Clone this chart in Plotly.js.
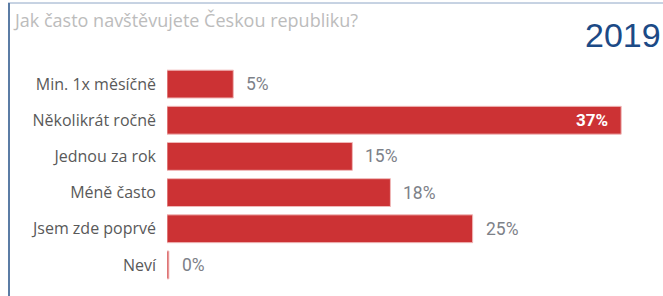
<!DOCTYPE html>
<html>
<head>
<meta charset="utf-8">
<script src="https://cdn.plot.ly/plotly-3.0.1.min.js"></script>
<style>html,body{margin:0;padding:0;background:#fff;}#chart{width:663px;height:296px;}</style>
</head>
<body>
<div id="chart"></div>
<script>
const categories = ["Min. 1x měsíčně", "Několikrát ročně", "Jednou za rok", "Méně často", "Jsem zde poprvé", "Neví"];
const values = [5.4, 37.0, 15.1, 18.2, 24.9, 0.15];
const labels = ["5%", "37%", "15%", "18%", "25%", "0%"];
const insideLabel = [false, true, false, false, false, false];
const chartTitle = "Jak často navštěvujete Českou republiku?";
const yearLabel = "2019";

const W = 663, H = 296;
const m = {l: 167, r: 5, t: 66, b: 13};
const pw = W - m.l - m.r, ph = H - m.t - m.b;
const px = v => (v - m.l) / pw;
const py = v => 1 - (v - m.t) / ph;

const trace = {
  type: "bar",
  orientation: "h",
  x: values,
  y: categories,
  marker: {color: "#cc3234", line: {color: "#f0b8b8", width: 1}},
  hoverinfo: "skip"
};

const annotations = values.map((v, i) => insideLabel[i] ? {
  x: v, y: categories[i], xref: "x", yref: "y",
  text: "<b>" + labels[i] + "</b>", showarrow: false,
  xanchor: "right", xshift: -11,
  font: {family: "Roboto, sans-serif", size: 17, color: "#ffffff"}
} : {
  x: v, y: categories[i], xref: "x", yref: "y",
  text: labels[i], showarrow: false,
  xanchor: "left", xshift: 11,
  font: {family: "Roboto, sans-serif", size: 17.5, color: "#7d8188"}
});

annotations.push({
  text: yearLabel, xref: "paper", yref: "paper",
  x: px(663), y: py(35), xanchor: "right", yanchor: "middle",
  showarrow: false,
  font: {family: "Liberation Sans, Arial, sans-serif", size: 34, color: "#1c4a86"}
});

const layout = {
  width: W, height: H,
  margin: m,
  paper_bgcolor: "#ffffff",
  plot_bgcolor: "#ffffff",
  showlegend: false,
  bargap: 0.23,
  title: {
    text: chartTitle,
    xref: "container", yref: "container",
    x: 15 / W, xanchor: "left",
    y: 1 - 21 / H, yanchor: "middle",
    font: {family: "Open Sans, sans-serif", size: 18, color: "#bcbcbc"}
  },
  xaxis: {range: [0, 40], visible: false, fixedrange: true},
  yaxis: {
    autorange: "reversed",
    showline: false, showgrid: false, zeroline: false,
    ticks: "", ticklabelstandoff: 10,
    tickfont: {family: "Open Sans, sans-serif", size: 16, color: "#595959"},
    fixedrange: true
  },
  annotations: annotations,
  shapes: [
    {type: "line", xref: "paper", yref: "paper", x0: px(8), x1: px(663), y0: py(3), y1: py(3), line: {color: "#8ea6c6", width: 1}},
    {type: "line", xref: "paper", yref: "paper", x0: px(9), x1: px(9), y0: py(3), y1: py(296), line: {color: "#5b7ca5", width: 2}}
  ]
};

Plotly.newPlot("chart", [trace], layout, {displayModeBar: false, staticPlot: true});
</script>
</body>
</html>
